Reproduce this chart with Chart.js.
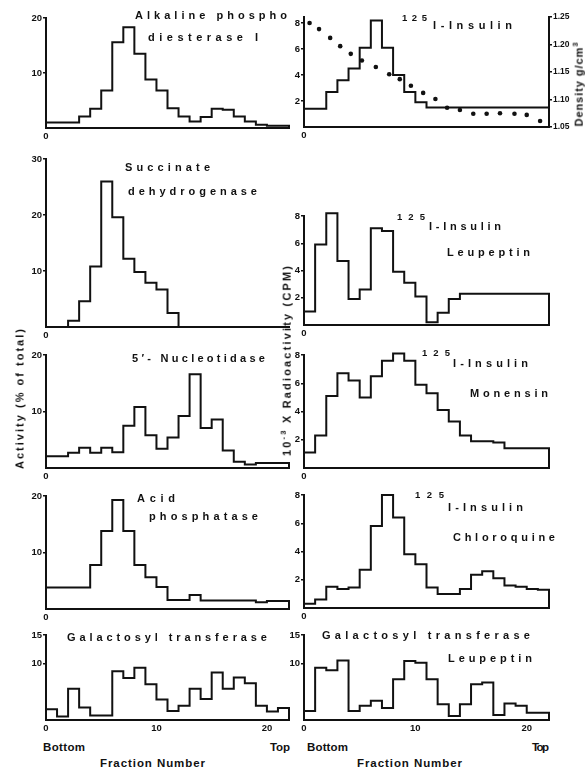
<!DOCTYPE html>
<html>
<head>
<meta charset="utf-8">
<script src="https://cdn.jsdelivr.net/npm/chart.js@4.4.1/dist/chart.umd.min.js"></script>
<style>
html, body { margin: 0; padding: 0; background: #fff; }
#page { position: relative; width: 588px; height: 770px; overflow: hidden; background: #fff; }
#page canvas { position: absolute; }
.t { position: absolute; font-family: "Liberation Sans", Arial, sans-serif; font-weight: bold; color: #111; white-space: nowrap; line-height: 1; }
</style>
</head>
<body>
<div id="page"></div>
<script>
// fraction number axis (one bin per fraction, 22 fractions)
const fractionTicks = [0, 10, 20];

// left column: activity (% of total)
const alkalinePhospho = [1.0, 1.0, 1.0, 2.1, 3.5, 6.8, 15.6, 18.3, 13.5, 8.8, 6.8, 3.6, 2.1, 1.2, 2.0, 3.5, 3.3, 2.1, 1.2, 0.6, 0.4, 0.4];
const succinateDH = [0, 0, 1.1, 4.6, 10.8, 26.0, 19.6, 12.2, 9.8, 7.9, 6.7, 2.5, 0, 0, 0, 0, 0, 0, 0, 0, 0, 0];
const nucleotidase = [2.1, 2.1, 2.7, 3.6, 2.7, 3.6, 2.8, 7.5, 10.8, 5.8, 3.4, 5.4, 9.2, 16.6, 7.1, 8.6, 3.1, 1.1, 0.6, 0.9, 0.9, 0.9];
const acidPhosphatase = [3.8, 3.8, 3.8, 3.8, 7.8, 13.8, 19.3, 13.8, 7.8, 5.6, 3.9, 1.6, 1.6, 2.5, 1.5, 1.5, 1.5, 1.5, 1.5, 1.2, 1.4, 1.4];
const galactosyl = [1.9, 0.6, 5.5, 2.2, 0.8, 0.8, 8.6, 7.4, 9.2, 6.3, 3.6, 1.6, 2.5, 5.5, 3.7, 8.4, 5.5, 7.5, 6.5, 2.5, 1.5, 2.1];

// right column: 10^-3 x radioactivity (CPM)
const insulin = [1.4, 1.4, 2.7, 3.6, 4.5, 6.1, 8.2, 6.1, 4.0, 2.7, 1.9, 1.5, 1.5, 1.5, 1.5, 1.5, 1.5, 1.5, 1.5, 1.5, 1.5, 1.5];
const insulinLeupeptin = [1.0, 5.9, 8.2, 4.7, 1.9, 2.6, 7.1, 6.9, 3.9, 3.1, 2.1, 0.2, 0.9, 1.9, 2.3, 2.3, 2.3, 2.3, 2.3, 2.3, 2.3, 2.3];
const insulinMonensin = [1.1, 2.3, 5.1, 6.7, 6.2, 5.0, 6.5, 7.6, 8.1, 7.6, 5.9, 5.3, 4.1, 3.3, 2.3, 1.9, 1.9, 1.8, 1.4, 1.4, 1.4, 1.4];
const insulinChloroquine = [0.3, 0.6, 1.5, 1.35, 1.45, 2.7, 5.8, 8.0, 6.4, 3.8, 3.1, 1.45, 1.0, 1.0, 1.35, 2.35, 2.6, 2.1, 1.6, 1.5, 1.35, 1.3];
const galactosylLeupeptin = [1.6, 9.2, 8.8, 10.5, 1.6, 2.5, 3.4, 2.1, 7.2, 10.4, 10.1, 7.2, 2.8, 0.7, 2.8, 6.3, 6.6, 0.9, 2.9, 2.5, 1.3, 1.3];

// gradient density (g/cm3) measured along the insulin gradient
const densityFraction = [0.5, 1.35, 2.35, 3.25, 4.2, 5.2, 6.45, 7.65, 8.6, 9.6, 10.7, 11.8, 12.85, 14.0, 15.2, 16.4, 17.6, 18.9, 20.0, 21.2];
const densityValues = [1.239, 1.228, 1.212, 1.197, 1.183, 1.171, 1.159, 1.146, 1.137, 1.125, 1.112, 1.101, 1.085, 1.081, 1.074, 1.074, 1.075, 1.074, 1.072, 1.061];
const densityTicks = [1.05, 1.10, 1.15, 1.20, 1.25];

const activityTicks = [10, 20];
const succinateTicks = [10, 20, 30];
const cpmTicks = [2, 4, 6, 8];
const galTicks = [10, 15];

Chart.defaults.font.family = '"Liberation Sans", Arial, sans-serif';
Chart.defaults.font.weight = 'bold';
Chart.defaults.font.size = 9.5;
Chart.defaults.color = '#111';

const page = document.getElementById('page');
const colLeft = [46, 304];
const colWidth = [243, 245];
const NBINS = 22;

const panels = [
	{ col: 0, top: 18, bottom: 128, max: 20, ticks: activityTicks, values: alkalinePhospho },
	{ col: 1, top: 17, bottom: 127, max: 8.46, ticks: cpmTicks, values: insulin, density: true },
	{ col: 0, top: 159, bottom: 327, max: 30, ticks: succinateTicks, values: succinateDH },
	{ col: 1, top: 216, bottom: 325, max: 8, ticks: cpmTicks, values: insulinLeupeptin },
	{ col: 0, top: 355, bottom: 468, max: 20, ticks: activityTicks, values: nucleotidase },
	{ col: 1, top: 355, bottom: 468, max: 8, ticks: cpmTicks, values: insulinMonensin },
	{ col: 0, top: 496, bottom: 609, max: 20, ticks: activityTicks, values: acidPhosphatase },
	{ col: 1, top: 495, bottom: 608, max: 8, ticks: cpmTicks, values: insulinChloroquine },
	{ col: 0, top: 635, bottom: 720, max: 15, ticks: galTicks, values: galactosyl, last: true },
	{ col: 1, top: 635, bottom: 720, max: 15, ticks: galTicks, values: galactosylLeupeptin, last: true }
];

// histogram outline: up from 0, one step per fraction, down to 0 at the end
function histPoints(vals) {
	const pts = [{ x: 0, y: 0 }];
	vals.forEach((v, i) => pts.push({ x: i, y: v }));
	pts.push({ x: vals.length, y: vals[vals.length - 1] });
	pts.push({ x: vals.length, y: 0 });
	return pts;
}

function drawPanel(p) {
	const YW = 40, PT = 10, PR = 8, XH = 16;
	const RW = p.density ? 26 : 0;
	const cw = YW + colWidth[p.col] + RW + PR;
	const ch = PT + (p.bottom - p.top) + XH;
	const cv = document.createElement('canvas');
	cv.width = cw;
	cv.height = ch;
	cv.style.left = (colLeft[p.col] - YW) + 'px';
	cv.style.top = (p.top - PT) + 'px';
	cv.style.width = cw + 'px';
	cv.style.height = ch + 'px';
	page.appendChild(cv);

	const datasets = [{
		data: histPoints(p.values),
		stepped: 'before',
		borderColor: '#111',
		borderWidth: 2,
		pointRadius: 0,
		fill: false,
		clip: false,
		yAxisID: 'y'
	}];
	const scales = {
		x: {
			type: 'linear',
			min: 0,
			max: NBINS,
			afterFit: (s) => { s.height = XH; },
			afterBuildTicks: (s) => { s.ticks = (p.last ? fractionTicks : [0]).map(v => ({ value: v })); },
			ticks: { padding: 3, maxRotation: 0, autoSkip: false },
			grid: { display: false, drawTicks: false },
			border: { display: true, color: '#111', width: 2 }
		},
		y: {
			type: 'linear',
			position: 'left',
			min: 0,
			max: p.max,
			afterFit: (s) => { s.width = YW; },
			afterBuildTicks: (s) => { s.ticks = p.ticks.map(v => ({ value: v })); },
			ticks: { padding: 1 },
			grid: { drawOnChartArea: false, drawTicks: true, tickLength: 3, color: '#111', lineWidth: 1.5 },
			border: { display: true, color: '#111', width: 2 }
		}
	};
	if (p.density) {
		datasets.push({
			data: densityFraction.map((f, i) => ({ x: f, y: densityValues[i] })),
			showLine: false,
			pointRadius: 2.3,
			pointBackgroundColor: '#111',
			pointBorderWidth: 0,
			clip: false,
			yAxisID: 'y2'
		});
		scales.y2 = {
			type: 'linear',
			position: 'right',
			min: 1.05,
			max: 1.25,
			afterFit: (s) => { s.width = RW; },
			afterBuildTicks: (s) => { s.ticks = densityTicks.map(v => ({ value: v })); },
			ticks: { padding: 1, font: { size: 8.5 }, callback: (v) => v.toFixed(2) },
			grid: { drawOnChartArea: false, drawTicks: true, tickLength: 3, color: '#111', lineWidth: 1.5 },
			border: { display: true, color: '#111', width: 2 }
		};
	}

	new Chart(cv, {
		type: 'line',
		data: { datasets: datasets },
		options: {
			responsive: false,
			animation: false,
			devicePixelRatio: 1,
			layout: { padding: { top: PT, right: PR, left: 0, bottom: 0 } },
			plugins: { legend: { display: false }, tooltip: { enabled: false } },
			scales: scales
		}
	});
}

panels.forEach(drawPanel);

// text spread with letter spacing so it spans x1..x2
function addText(html, x1, x2, cy, size) {
	const el = document.createElement('div');
	el.className = 't';
	el.innerHTML = html;
	el.style.fontSize = size + 'px';
	page.appendChild(el);
	const n = el.textContent.length;
	const w0 = el.getBoundingClientRect().width;
	if (n > 1) el.style.letterSpacing = ((x2 - x1) - w0) / (n - 1) + 'px';
	el.style.left = x1 + 'px';
	el.style.top = (cy - size * 0.5) + 'px';
}

function addVText(html, cx, cy, len, size) {
	const el = document.createElement('div');
	el.className = 't';
	el.innerHTML = html;
	el.style.fontSize = size + 'px';
	page.appendChild(el);
	const n = el.textContent.length;
	const w0 = el.getBoundingClientRect().width;
	if (n > 1) el.style.letterSpacing = (len - w0) / (n - 1) + 'px';
	el.style.left = cx + 'px';
	el.style.top = cy + 'px';
	el.style.transform = 'translate(-50%, -50%) rotate(-90deg)';
}

addText('Alkaline phospho', 135, 287, 15, 11);
addText('diesterase I', 148, 258, 37, 11);
addText('125', 402, 427, 18, 9.5);
addText('I-Insulin', 433, 512, 25, 11);

addText('Succinate', 125, 210, 167, 11);
addText('dehydrogenase', 128, 257, 191, 11);
addText('125', 397, 425, 217, 9.5);
addText('I-Insulin', 429, 501, 226, 11);
addText('Leupeptin', 447, 530, 252, 11);

addText('5\u2032- Nucleotidase', 132, 265, 358, 11);
addText('125', 422, 450, 353, 9.5);
addText('I-Insulin', 453, 528, 363, 11);
addText('Monensin', 470, 548, 393, 11);

addText('Acid', 137, 175, 498, 11);
addText('phosphatase', 149, 258, 516, 11);
addText('125', 415, 444, 495, 9.5);
addText('I-Insulin', 448, 523, 507, 11);
addText('Chloroquine', 453, 555, 537, 11);

addText('Galactosyl transferase', 67, 267, 637, 11);
addText('Galactosyl transferase', 322, 530, 635, 11);
addText('Leupeptin', 448, 532, 658, 11);

addText('Bottom', 43, 85, 748, 11.5);
addText('Top', 270, 290, 748, 11.5);
addText('Fraction Number', 100, 205, 764, 11.5);
addText('Bottom', 307, 348, 748, 11.5);
addText('Top', 532, 549, 748, 11.5);
addText('Fraction Number', 357, 462, 764, 11.5);

addVText('Activity (% of total)', 20, 398, 140, 11);
addVText('10<sup style="font-size:0.7em">-3</sup> X Radioactivity (CPM)', 286, 360, 190, 11);
addVText('Density g/cm<sup style="font-size:0.7em">3</sup>', 578, 84, 84, 11);
</script>
</body>
</html>
